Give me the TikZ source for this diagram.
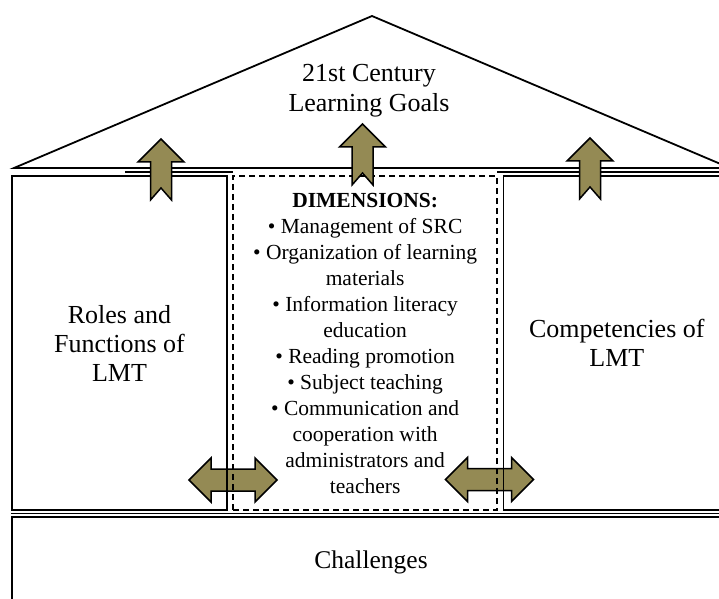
\documentclass[tikz,border=0pt]{standalone}
\usepackage{fontspec}
\setmainfont{Liberation Serif}
\usepackage{tikz}
\usetikzlibrary{
  calc,
  positioning,
}
\definecolor{arrowolive}{RGB}{148, 138, 84}
\tikzstyle{pillar} = [
  draw,
  rectangle,
  line width=1.5pt,
  minimum height=334,
  align=center,
  font=\fontsize{26}{29}\selectfont,
]
\tikzstyle{dimbox} = [
  draw,
  rectangle,
  dash pattern=on 6pt off 4pt,
  line width=1.8pt,
  minimum height=334,
  align=center,
  font=\fontsize{21.5}{26}\selectfont,
]
\tikzstyle{blockarrow} = [
  draw,
  line width=1.5pt,
  line join=miter,
  fill=arrowolive,
]
\tikzset{
  liftarrow/.pic={
    \draw[blockarrow] (0,0) -- (23,-23) -- (10.5,-23) -- (10.5,-61) -- (0,-49)
      -- (-10.5,-61) -- (-10.5,-23) -- (-23,-23) -- cycle;
  },
  swaparrow/.pic={
    \draw[blockarrow] (-44,0) -- (-22,22) -- (-22,11) -- (22,11) -- (22,22)
      -- (44,0) -- (22,-22) -- (22,-11) -- (-22,-11) -- (-22,-22) -- cycle;
  },
}

\begin{document}
\begin{tikzpicture}[x=1pt, y=1pt, node distance=4.5pt]

        \useasboundingbox (0,0) rectangle (719,598);
        \clip (0,0) rectangle (719,598);

        % roof
        \draw[line width=1.8pt, line join=miter] (14,430) -- (372,582) -- (730,430) -- cycle;
        \node[align=center, font=\fontsize{26}{30}\selectfont] (goals) at (369,507) {21st Century\\Learning Goals};
        \draw[line width=1.2pt] (125,426) -- (233,426);
        \draw[line width=1.2pt] (497,426) -- (730,426);

        % arrows between the pillars
        \pic at (233,118) {swaparrow};
        \pic at (489.5,118.5) {swaparrow};

        % pillars
        \node[pillar, minimum width=215] (roles) at (119.5,255) {Roles and\\Functions of\\LMT};
        \node[dimbox, minimum width=264] (dims) [right=of roles] {\textbf{DIMENSIONS:}\\
            \textbullet{} Management of SRC\\
            \textbullet{} Organization of learning\\
            materials\\
            \textbullet{} Information literacy\\
            education\\
            \textbullet{} Reading promotion\\
            \textbullet{} Subject teaching\\
            \textbullet{} Communication and\\
            cooperation with\\
            administrators and\\
            teachers};
        \node[pillar, minimum width=227] (comp) [right=of dims] {Competencies of\\LMT};

        % base
        \node[draw, rectangle, line width=1.5pt, minimum width=718, minimum height=91,
              font=\fontsize{25.5}{29}\selectfont] (chal) at (371,35.5) {Challenges};
        \draw[line width=1.2pt] ([yshift=3pt]chal.north west) -- ([yshift=3pt]chal.north east);

        % arrows up to the roof
        \pic at (161,459) {liftarrow};
        \pic at (362.5,474) {liftarrow};
        \pic at (590,460) {liftarrow};

\end{tikzpicture}
\end{document}
